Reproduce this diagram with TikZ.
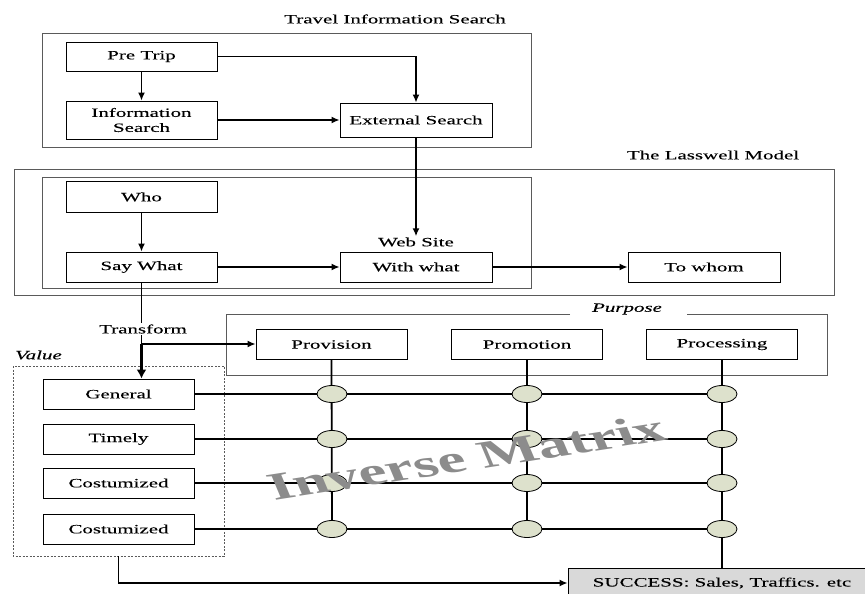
\documentclass[tikz,border=0pt]{standalone}
\usepackage{fontspec}
\usetikzlibrary{arrows.meta,shapes.geometric}
\newfontfamily\widefont[FakeStretch=1.65,FakeBold=0.15]{Liberation Serif}
\newfontfamily\wmfont{Liberation Serif}
\definecolor{nodefill}{RGB}{221,225,204}
\definecolor{succfill}{RGB}{217,217,217}
\definecolor{framecol}{RGB}{90,90,90}
\begin{document}
\begin{tikzpicture}[x=1pt,y=-1pt,
  txt/.style={font=\widefont\fontsize{12.7}{15}\selectfont, inner sep=1pt},
  itxt/.style={font=\widefont\itshape\fontsize{12.7}{15}\selectfont, inner sep=1pt},
  box/.style={txt, draw=black, fill=white, line width=0.8pt, minimum width=151pt, minimum height=30pt, inner sep=0pt, align=center},
  frame/.style={draw=framecol, line width=1pt},
  conn/.style={line width=1.5pt, -{Latex[length=8pt,width=7pt]}},
  line/.style={line width=1.2pt},
  vline/.style={line width=1.8pt},
  dot/.style={ellipse, draw=black, fill=nodefill, line width=0.8pt, minimum width=30pt, minimum height=17pt, inner sep=0pt}
]
\useasboundingbox (0,0) rectangle (865,594);
\clip (0,0) rectangle (865,594);
\fill[white] (0,0) rectangle (865,594);

% frames
\draw[frame] (42,34) rectangle (531,147);
\draw[frame] (14,169) rectangle (834,295);
\draw[frame] (42,177) rectangle (531,288);
\draw[frame] (570,314) -- (226,314) -- (226,375) -- (827,375) -- (827,314) -- (687,314);
\draw[draw=framecol, line width=0.8pt, dash pattern=on 2pt off 1.5pt] (13,366) rectangle (224,556);

% labels
\node[txt] (ltravel) at (395,19) {Travel Information Search};
\node[txt] (llass) at (713,155) {The Lasswell Model};
\node[itxt] (lpurp) at (627,309) {Purpose};
\node[itxt, anchor=west] (lvalue) at (14,355) {Value};

% travel information search
\node[box, minimum height=29pt] (pretrip) at (141.5,56.5) {Pre Trip};
\node[box, minimum height=38pt] (info) at (141.5,120) {Information\\Search};
\node[box, minimum width=152pt, minimum height=34pt] (ext) at (416,120) {External Search};

% lasswell
\node[box, minimum height=31pt] (who) at (141.5,197) {Who};
\node[box] (say) at (141.5,267) {Say What};
\node[box, minimum width=152pt] (with) at (416,267) {With what};
\node[box, minimum width=152pt] (whom) at (704,267) {To whom};
\node[txt] (web) at (416,242) {Web Site};

% purpose
\node[box] (prov) at (331.5,344.5) {Provision};
\node[box] (prom) at (527,344.5) {Promotion};
\node[box] (proc) at (722,344.5) {Processing};

% value
\node[box] (gen) at (118.5,394) {General};
\node[box] (tim) at (118.5,439) {Timely};
\node[box] (cos1) at (118.5,483) {Costumized};
\node[box] (cos2) at (118.5,529) {Costumized};

\node[box, fill=succfill, minimum width=308pt] (succ) at (722,583) {SUCCESS: Sales, Traffics. etc};

% matrix dots
\foreach \r/\y in {gen/394,tim/439,cos1/483,cos2/529}{
  \foreach \c/\x in {prov/332,prom/527,proc/722}{
    \coordinate (d-\r-\c) at (\x,\y);
  }
}
% grid lines
\foreach \r in {gen,tim,cos1,cos2}{
  \draw[line] (\r.east) -- (d-\r-proc);
}
\draw[vline] (prov.south) -- (d-cos2-prov);
\draw[vline] (prom.south) -- (d-cos2-prom);
\draw[vline] (proc.south) -- (succ.north);
\foreach \r in {gen,tim,cos1,cos2}{
  \foreach \c in {prov,prom,proc}{
    \node[dot] (e-\r-\c) at (d-\r-\c) {};
  }
}

% connectors
\draw[conn] (pretrip.south) -- (info.north);
\draw[conn] (pretrip.east) -| (ext.north);
\draw[conn] (info.east) -- (info.east -| ext.west);
\draw[conn] (ext.south) -- (ext.south |- web.north);
\draw[conn] (who.south) -- (say.north);
\draw[conn] (say.east) -- (with.west);
\draw[conn] (with.east) -- (whom.west);

\coordinate (branch) at (141.5,344);
\draw[line] (say.south) -- (branch);
\node[txt, fill=white, inner sep=1pt] (transf) at (143,329) {Transform};
\draw[conn] (branch) -- (branch -| prov.west);
\draw[line width=2.6pt, -{Latex[length=9pt,width=10pt]}] (branch) -- (branch |- gen.north);

\coordinate (vb) at (118.5,556);
\draw[conn] (vb) |- (succ.west);

% watermark
\begin{scope}[shift={(472,470)}, xscale=1.65]
  \node[rotate=14.3, transform shape, anchor=base, text=black!45, inner sep=0pt,
        font=\wmfont\bfseries\fontsize{38.5}{40}\selectfont] (wm) at (0,0) {Inverse Matrix};
\end{scope}
\end{tikzpicture}
\end{document}
